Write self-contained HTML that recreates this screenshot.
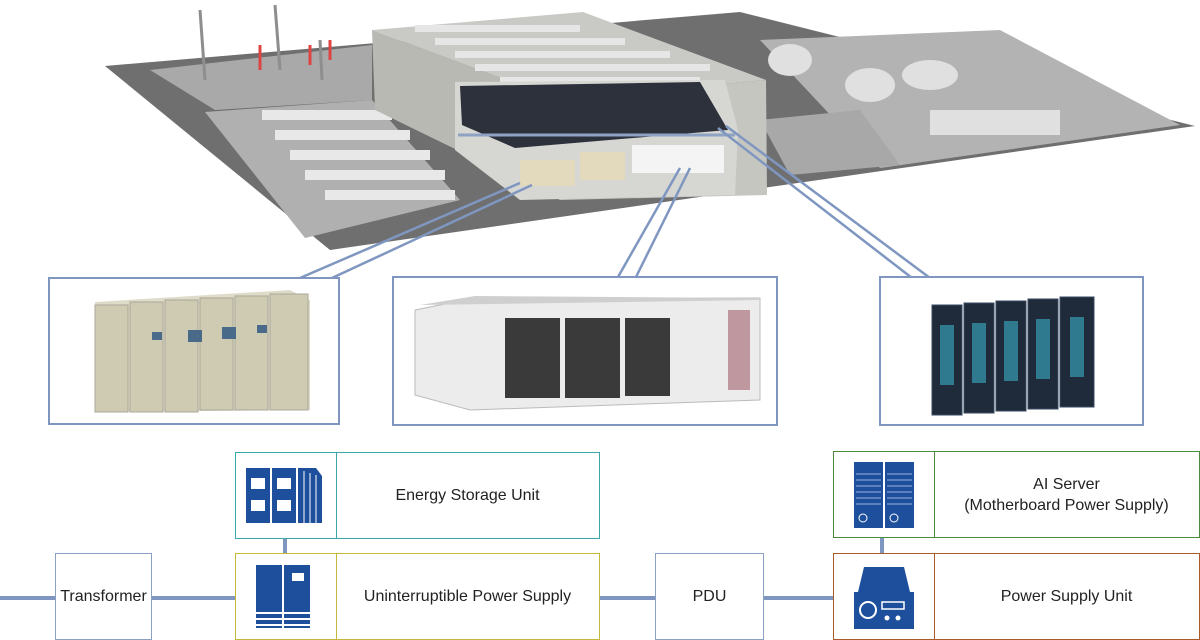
<!DOCTYPE html>
<html><head><meta charset="utf-8"><style>
body{margin:0;width:1200px;height:640px;background:#fff;overflow:hidden;font-family:"Liberation Sans",sans-serif;position:relative}
.b{position:absolute;box-sizing:border-box;border:1.5px solid #8aa0c4;background:#fff;display:flex;align-items:center;justify-content:center;font-size:16px;color:#222;text-align:center}
.l{position:absolute;background:#7f97c0}
.ic{position:absolute;top:0;bottom:0;left:0;width:100px;border-right:1.5px solid;display:flex;align-items:center;justify-content:center}
.tx{position:absolute;top:0;bottom:0;left:100px;right:0;display:flex;align-items:center;justify-content:center;line-height:21px}
</style></head><body>
<svg width="1200" height="440" style="position:absolute;left:0;top:0">
<polygon points="105,66 740,12 1195,126 330,250" fill="#6f6f6f"/>
<polygon points="150,70 372,45 372,100 215,110" fill="#a9a9a9"/>
<polygon points="205,112 372,100 460,200 305,238" fill="#b0b0b0"/>
<polygon points="760,40 1000,30 1180,125 880,168" fill="#b3b3b3"/>
<polygon points="760,120 860,110 900,165 790,175" fill="#a8a8a8"/>
<g fill="#e8e8e8"><rect x="262" y="110" width="130" height="10"/><rect x="275" y="130" width="135" height="10"/><rect x="290" y="150" width="140" height="10"/><rect x="305" y="170" width="140" height="10"/><rect x="325" y="190" width="130" height="10"/></g>
<g fill="#e0e0e0"><ellipse cx="790" cy="60" rx="22" ry="16"/><ellipse cx="870" cy="85" rx="25" ry="17"/><ellipse cx="930" cy="75" rx="28" ry="15"/><rect x="930" y="110" width="130" height="25"/></g>
<polygon points="372,30 583,12 766,80 560,100" fill="#c9c9c6"/>
<polygon points="372,30 560,100 560,200 375,110" fill="#b9b9b4"/>
<polygon points="560,100 766,80 767,195 560,200" fill="#c6c6c1"/>
<g fill="#e6e6e6"><rect x="415" y="25" width="165" height="7"/><rect x="435" y="38" width="190" height="7"/><rect x="455" y="51" width="215" height="7"/><rect x="475" y="64" width="235" height="7"/><rect x="500" y="77" width="200" height="6"/></g>
<polygon points="455,82 725,80 738,130 735,195 520,200 455,150" fill="#d6d6d2"/>
<polygon points="460,86 700,82 728,130 515,148 462,125" fill="#2c313b"/>
<line x1="458" y1="135" x2="735" y2="135" stroke="#8ea3c4" stroke-width="3"/>
<rect x="520" y="160" width="55" height="26" fill="#e3d9bc"/><rect x="580" y="152" width="45" height="28" fill="#e3d9bc"/>
<rect x="632" y="145" width="92" height="28" fill="#f4f4f4"/>
<g stroke="#8e8e8e" stroke-width="3"><line x1="200" y1="10" x2="205" y2="80"/><line x1="275" y1="5" x2="280" y2="70"/><line x1="320" y1="40" x2="322" y2="80"/></g>
<g stroke="#d44" stroke-width="3"><line x1="260" y1="45" x2="260" y2="70"/><line x1="310" y1="45" x2="310" y2="65"/><line x1="330" y1="40" x2="330" y2="60"/></g>
<g stroke="#7f97c0" stroke-width="2.5" fill="none">
<line x1="520" y1="183" x2="300" y2="278"/><line x1="532" y1="185" x2="332" y2="278"/>
<line x1="680" y1="168" x2="618" y2="277"/><line x1="690" y1="168" x2="636" y2="277"/>
<line x1="718" y1="128" x2="912" y2="278"/><line x1="726" y1="126" x2="930" y2="278"/>
</g>
<rect x="49" y="278" width="290" height="146" fill="#fff" stroke="#7f97c0" stroke-width="2"/>
<rect x="393" y="277" width="384" height="148" fill="#fff" stroke="#7f97c0" stroke-width="2"/>
<rect x="880" y="277" width="263" height="148" fill="#fff" stroke="#7f97c0" stroke-width="2"/>
<polygon points="95,302 290,290 310,300 310,410 95,412" fill="#dedbc8"/>
<g fill="#cfcbb3" stroke="#aaa79a" stroke-width="1"><rect x="95" y="305" width="33" height="107"/><rect x="130" y="302" width="33" height="110"/><rect x="165" y="300" width="33" height="112"/><rect x="200" y="298" width="33" height="112"/><rect x="235" y="296" width="33" height="114"/><rect x="270" y="294" width="38" height="116"/></g>
<g fill="#4a6a8a"><rect x="188" y="330" width="14" height="12"/><rect x="222" y="327" width="14" height="12"/><rect x="152" y="332" width="10" height="8"/><rect x="257" y="325" width="10" height="8"/></g>
<polygon points="415,310 475,298 760,298 760,400 470,410 415,395" fill="#ececec" stroke="#bbb"/>
<polygon points="420,305 760,300 760,298 475,296" fill="#cfcfcf"/>
<rect x="505" y="318" width="55" height="80" fill="#3a3a3a"/><rect x="565" y="318" width="55" height="80" fill="#3a3a3a"/><rect x="625" y="318" width="45" height="78" fill="#3a3a3a"/>
<rect x="728" y="310" width="22" height="80" fill="#a0606a" opacity=".6"/>
<g fill="#1f2a3a" stroke="#3a4a60"><rect x="932" y="305" width="30" height="110"/><rect x="964" y="303" width="30" height="110"/><rect x="996" y="301" width="30" height="110"/><rect x="1028" y="299" width="30" height="110"/><rect x="1060" y="297" width="34" height="110"/></g>
<g fill="#3ab0c8" opacity=".6"><rect x="940" y="325" width="14" height="60"/><rect x="972" y="323" width="14" height="60"/><rect x="1004" y="321" width="14" height="60"/><rect x="1036" y="319" width="14" height="60"/><rect x="1070" y="317" width="14" height="60"/></g>
</svg>

<div class="l" style="left:0;top:596px;width:55px;height:4px"></div>
<div class="l" style="left:151px;top:596px;width:84px;height:4px"></div>
<div class="l" style="left:599px;top:596px;width:56px;height:4px"></div>
<div class="l" style="left:763px;top:596px;width:70px;height:4px"></div>
<div class="l" style="left:283px;top:538px;width:4px;height:15px"></div>
<div class="l" style="left:880px;top:537px;width:4px;height:16px"></div>

<div class="b" style="left:55px;top:553px;width:97px;height:87px">Transformer</div>
<div class="b" style="left:655px;top:553px;width:109px;height:87px">PDU</div>

<div class="b" style="left:235px;top:452px;width:365px;height:87px;border-color:#3aa8aa"><div class="ic" style="border-color:#3aa8aa">
<svg width="80" height="60"><rect x="0" y="2" width="24" height="55" fill="#1d4f9c"/><rect x="26" y="2" width="24" height="55" fill="#1d4f9c"/><polygon points="52,2 70,2 76,10 76,57 52,57" fill="#1d4f9c"/><g fill="#fff"><rect x="5" y="12" width="14" height="11"/><rect x="5" y="34" width="14" height="11"/><rect x="31" y="12" width="14" height="11"/><rect x="31" y="34" width="14" height="11"/></g><g stroke="#fff"><line x1="58" y1="5" x2="58" y2="57"/><line x1="64" y1="7" x2="64" y2="57"/><line x1="70" y1="9" x2="70" y2="57"/></g></svg></div><div class="tx">Energy Storage Unit</div></div>

<div class="b" style="left:235px;top:553px;width:365px;height:87px;border-color:#c8b838"><div class="ic" style="border-color:#c8b838">
<svg width="60" height="64"><rect x="0" y="0" width="26" height="63" fill="#1d4f9c"/><rect x="28" y="0" width="26" height="63" fill="#1d4f9c"/><rect x="36" y="8" width="12" height="8" fill="#fff"/><g stroke="#fff" stroke-width="2"><line x1="0" y1="48" x2="54" y2="48"/><line x1="0" y1="54" x2="54" y2="54"/><line x1="0" y1="60" x2="54" y2="60"/></g></svg></div><div class="tx">Uninterruptible Power Supply</div></div>

<div class="b" style="left:833px;top:451px;width:367px;height:87px;border-color:#4a8a3a"><div class="ic" style="border-color:#4a8a3a">
<svg width="64" height="70"><rect x="2" y="2" width="29" height="66" fill="#1d4f9c"/><rect x="33" y="2" width="29" height="66" fill="#1d4f9c"/><g stroke="#9bb3e0" stroke-width="1"><line x1="4" y1="14" x2="29" y2="14"/><line x1="4" y1="20" x2="29" y2="20"/><line x1="4" y1="26" x2="29" y2="26"/><line x1="4" y1="32" x2="29" y2="32"/><line x1="4" y1="38" x2="29" y2="38"/><line x1="4" y1="44" x2="29" y2="44"/><line x1="35" y1="14" x2="60" y2="14"/><line x1="35" y1="20" x2="60" y2="20"/><line x1="35" y1="26" x2="60" y2="26"/><line x1="35" y1="32" x2="60" y2="32"/><line x1="35" y1="38" x2="60" y2="38"/><line x1="35" y1="44" x2="60" y2="44"/></g><circle cx="11" cy="58" r="4" fill="none" stroke="#fff"/><circle cx="42" cy="58" r="4" fill="none" stroke="#fff"/></svg></div><div class="tx">AI Server<br>(Motherboard Power Supply)</div></div>

<div class="b" style="left:833px;top:553px;width:367px;height:87px;border-color:#a85a2a"><div class="ic" style="border-color:#a85a2a">
<svg width="64" height="70"><polygon points="12,5 52,5 58,30 6,30" fill="#1d4f9c"/><rect x="2" y="30" width="60" height="37" fill="#1d4f9c"/><circle cx="16" cy="48" r="8" fill="none" stroke="#fff" stroke-width="2"/><rect x="30" y="40" width="22" height="7" fill="none" stroke="#fff" stroke-width="1.5"/><circle cx="35" cy="56" r="2.5" fill="#fff"/><circle cx="46" cy="56" r="2.5" fill="#fff"/></svg></div><div class="tx">Power Supply Unit</div></div>
</body></html>
